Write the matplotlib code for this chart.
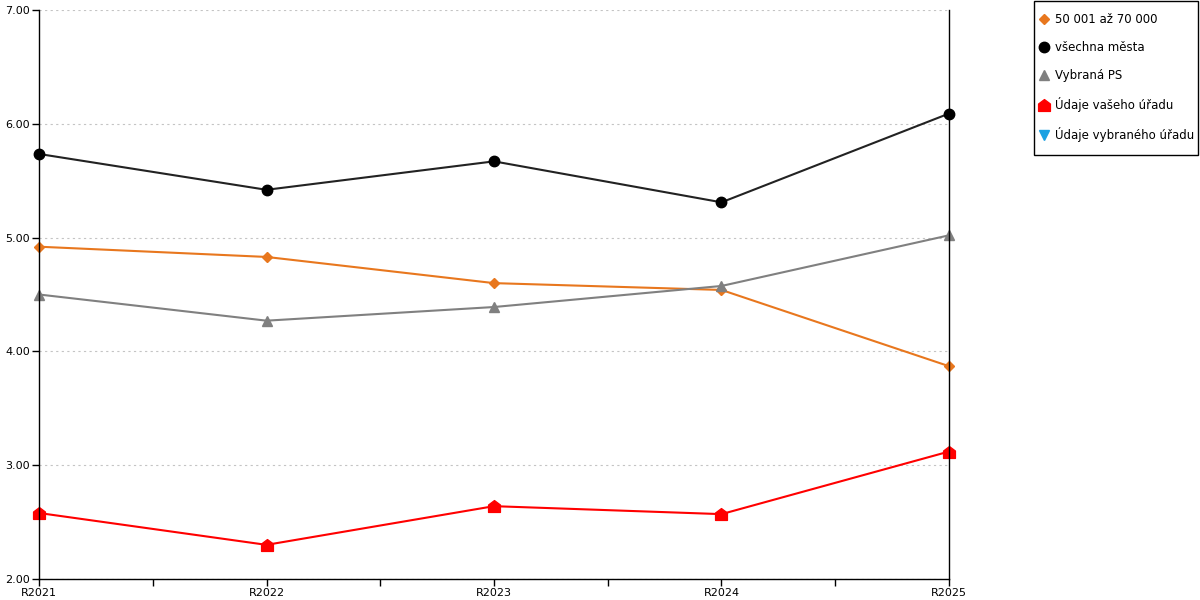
import matplotlib
matplotlib.use("Agg")
import matplotlib.pyplot as plt
from matplotlib.path import Path
from matplotlib.lines import Line2D
from matplotlib.patches import Rectangle

categories = ["R2021", "R2022", "R2023", "R2024", "R2025"]
s_50k_70k = [4.92, 4.83, 4.60, 4.54, 3.87]
s_all = [5.735, 5.42, 5.67, 5.31, 6.09]
s_ps = [4.50, 4.27, 4.39, 4.575, 5.02]
s_yours = [2.58, 2.30, 2.64, 2.57, 3.12]
yticks = [2.0, 3.0, 4.0, 5.0, 6.0, 7.0]

labels = ["50 001 až 70 000", "všechna města", "Vybraná PS",
          "Údaje vašeho úřadu", "Údaje vybraného úřadu"]
colors = ["#e8771e", "#000000", "#808080", "#ff0000", "#1ba1e2"]

house = Path([(-1, -1), (1, -1), (1, 0.25), (0, 1), (-1, 0.25), (-1, -1)],
             [Path.MOVETO, Path.LINETO, Path.LINETO, Path.LINETO, Path.LINETO, Path.CLOSEPOLY])

plt.rcParams['font.family'] = ['DejaVu Sans']
fig = plt.figure(figsize=(12, 6), dpi=100)
ax = fig.add_axes([39/1200, 1-579/600, (949-39)/1200, (579-10)/600])

x = list(range(len(categories)))
ax.plot(x, s_50k_70k, color=colors[0], lw=1.5, marker="D", ms=5.5, zorder=3, clip_on=False)
ax.plot(x, s_all, color="#222222", lw=1.5, marker="o", ms=7.5, mfc="#000000", mec="#000000", zorder=4, clip_on=False)
ax.plot(x, s_ps, color=colors[2], lw=1.5, marker="^", ms=7.5, zorder=5, clip_on=False)
ax.plot(x, s_yours, color=colors[3], lw=1.5, marker=house, ms=8.5, zorder=6, clip_on=False)

ax.set_xlim(0, len(categories) - 1)
ax.set_ylim(2, 7)
ax.set_yticks(yticks)
ax.set_yticklabels([f"{v:.2f}" for v in yticks])
ax.set_xticks(x)
ax.set_xticklabels(categories)
ax.set_xticks([i + 0.5 for i in x[:-1]], minor=True)
ax.tick_params(axis="both", which="both", direction="out", length=5, width=1, labelsize=8, pad=1.5, color="black")
ax.grid(axis="y", linestyle=(0, (2, 3)), color="#c4c4c4", lw=0.8)
ax.set_axisbelow(True)
ax.spines["top"].set_visible(False)
for s in ["left", "right", "bottom"]:
    ax.spines[s].set_color("black")
    ax.spines[s].set_linewidth(1)
    ax.spines[s].set_zorder(7)

handles = [
    Line2D([], [], color=colors[0], marker="D", ms=5.5, lw=0),
    Line2D([], [], color=colors[1], marker="o", ms=7.5, lw=0),
    Line2D([], [], color=colors[2], marker="^", ms=7.5, lw=0),
    Line2D([], [], color=colors[3], marker=house, ms=8.5, lw=0),
    Line2D([], [], color=colors[4], marker="v", ms=7.5, lw=0),
]
fig.patches.append(Rectangle((1034/1200, 1-155/600), (1198-1034)/1200, 154/600,
                             transform=fig.transFigure, fill=False, edgecolor="black", lw=1))
leg = fig.legend(handles, labels, loc="upper left", bbox_to_anchor=(1040/1200, 1-13/600),
                 frameon=False, fontsize=8.5,
                 handlelength=0.7, handletextpad=0.55, labelspacing=1.28,
                 borderpad=0, borderaxespad=0)

fig.savefig("out.png", dpi=100)
